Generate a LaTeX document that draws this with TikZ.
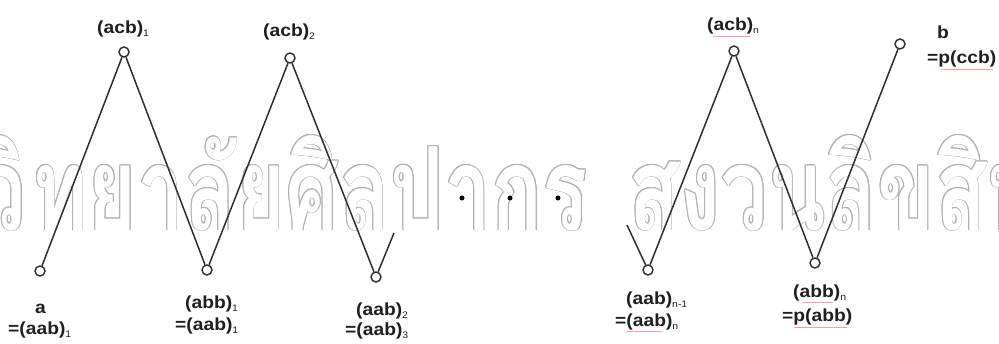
\documentclass[tikz,border=0pt]{standalone}
\usepackage{fontspec}
\usepackage{graphicx}
\usetikzlibrary{calc}
\newfontfamily\lblfont{Liberation Sans}[FakeStretch=1.1]
\newfontfamily\thaifont[Script=Thai]{Loma}
\newsavebox\wmA
\newsavebox\wmB
\newsavebox\wmC
\setbox\wmA\hbox{\thaifont\bfseries ทยาลัยศิลปากร}
\setbox\wmB\hbox{\thaifont\bfseries สงวนลิขสิทธิ์}
\setbox\wmC\hbox{\thaifont\bfseries มหาวิ}
\newcommand\sbs[1]{\raisebox{-3pt}{\fontsize{9.5}{9.5}\selectfont\mdseries #1}}
\definecolor{wmgray}{gray}{0.7}
\definecolor{ink}{gray}{0.18}
\newcommand\wmark[4]{%
  \foreach \ang in {0,30,...,330}
    \node[wmnode, text=wmgray, anchor=#2] at ($(#3)+(\ang:0.9)$) {\scalebox{\wsx}[\wsy]{\copy#1}};
  \node[wmnode, text=white, anchor=#2] (#4) at (#3) {\scalebox{\wsx}[\wsy]{\copy#1}};
}
\begin{document}
\begin{tikzpicture}[x=1pt,y=-1pt,
  wmnode/.style={inner sep=0, outer sep=0},
  pt/.style={circle, draw=ink, fill=white, line width=1.4pt, minimum size=10pt, inner sep=0},
  conn/.style={line width=1.5pt, draw=ink},
  lbl/.style={inner sep=0, anchor=base west, text=black!88, font=\lblfont\bfseries\fontsize{17.5}{20}\selectfont},
  dotn/.style={circle, fill=black, inner sep=0, minimum size=5pt},
  squig/.style={red!55, line width=0.7pt, opacity=0.7}]
\useasboundingbox (0,0) rectangle (999,343);
\clip (0,0) rectangle (999,343);
\pgfmathsetmacro\wsx{556/\the\wd\wmA}
\pgfmathsetmacro\wsy{95/\the\ht\wmA}
% watermark
\coordinate (wA) at (32,230);
\coordinate (wB) at (628,230);
\coordinate (wC) at (26,230);
\wmark{\wmA}{base west}{wA}{wmA}
\wmark{\wmB}{base west}{wB}{wmB}
\wmark{\wmC}{base east}{wC}{wmC}
% points
\node[pt] (a) at (40,271) {};
\node[pt] (c1) at (124,52) {};
\node[pt] (b1) at (207,270) {};
\node[pt] (c2) at (290,58) {};
\node[pt] (a2) at (376,277) {};
\coordinate (s1) at (394,233);
\coordinate (s2) at (627,225);
\node[pt] (an1) at (648,270) {};
\node[pt] (cn) at (734,51) {};
\node[pt] (bn) at (815,263) {};
\node[pt] (b) at (900,44) {};
% connectors
\draw[conn] (a) -- (c1);
\draw[conn] (c1) -- (b1);
\draw[conn] (b1) -- (c2);
\draw[conn] (c2) -- (a2);
\draw[conn] (a2) -- (s1);
\draw[conn] (s2) -- (an1);
\draw[conn] (an1) -- (cn);
\draw[conn] (cn) -- (bn);
\draw[conn] (bn) -- (b);
% dots
\node[dotn] (d1) at (462,198) {};
\node[dotn] (d2) at (510,198) {};
\node[dotn] (d3) at (558,198) {};
% labels
\node[lbl] (Lc1) at (97,33) {(acb)\sbs{1}};
\node[lbl] (Lc2) at (263,36.5) {(acb)\sbs{2}};
\node[lbl] (Lcn) at (707,30) {(acb)\sbs{n}};
\node[lbl] (Lb) at (937,38) {b};
\node[lbl] (Lb2) at (927,63.5) {=p(ccb)};
\node[lbl] (La) at (35,313) {a};
\node[lbl] (La2) at (8,334.5) {=(aab)\sbs{1}};
\node[lbl] (Lb1) at (185,308) {(abb)\sbs{1}};
\node[lbl] (Lb12) at (175,330.5) {=(aab)\sbs{1}};
\node[lbl] (La3) at (356,315) {(aab)\sbs{2}};
\node[lbl] (La32) at (345,335) {=(aab)\sbs{3}};
\node[lbl] (Lan) at (626,304.5) {(aab)\sbs{n-1}};
\node[lbl] (Lan2) at (615,326) {=(aab)\sbs{n}};
\node[lbl] (Lbn) at (793,297) {(abb)\sbs{n}};
\node[lbl] (Lbn2) at (782,321.5) {=p(abb)};
% spell-check underlines
\draw[squig] (941,69) -- (993,69);
\draw[squig] (627,331) -- (662,331);
\draw[squig] (794,327) -- (847,327);
\draw[squig] (713,36) -- (750,36);
\draw[squig] (803,302) -- (833,302);
\end{tikzpicture}
\end{document}
